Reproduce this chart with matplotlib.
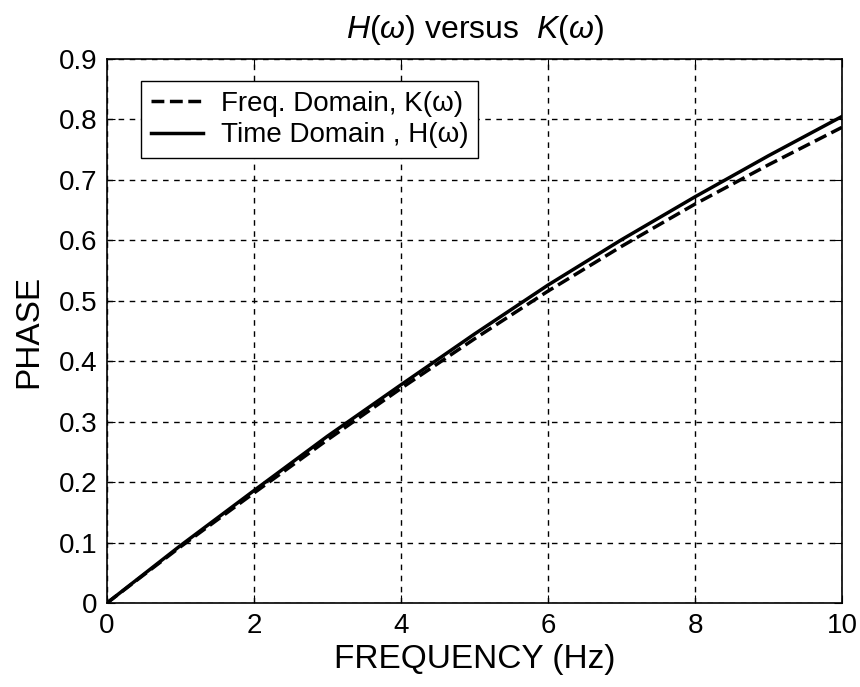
import matplotlib
matplotlib.use('Agg')
import matplotlib.pyplot as plt

plt.rcParams['font.family'] = ['Liberation Sans', 'DejaVu Sans']
plt.rcParams['mathtext.fontset'] = 'custom'
plt.rcParams['mathtext.it'] = 'Liberation Sans:italic'
plt.rcParams['mathtext.rm'] = 'Liberation Sans'

# data
freq = [0, 1, 2, 3, 4, 5, 6, 7, 8, 9, 10]
phase_K = [0, 0.093, 0.182, 0.270, 0.355, 0.437, 0.516, 0.590, 0.660, 0.725, 0.787]
phase_H = [0, 0.095, 0.186, 0.276, 0.361, 0.445, 0.526, 0.601, 0.672, 0.740, 0.805]

fig = plt.figure(figsize=(8.6, 6.87), dpi=100)
ax = fig.add_axes([0.1244, 0.1223, 0.8547, 0.7918])

ax.plot(freq, phase_K, 'k--', lw=2.5, label='Freq. Domain, K(ω)')
ax.plot(freq, phase_H, 'k-', lw=2.5, label='Time Domain , H(ω)')

ax.set_xlim(0, 10)
ax.set_ylim(0, 0.9)
ax.set_xticks([0, 2, 4, 6, 8, 10])
ax.set_yticks([0, 0.1, 0.2, 0.3, 0.4, 0.5, 0.6, 0.7, 0.8, 0.9])
ax.set_yticklabels(['0', '0.1', '0.2', '0.3', '0.4', '0.5', '0.6', '0.7', '0.8', '0.9'])
ax.grid(True, color='k', linestyle=(0, (4, 4)), lw=1)
ax.tick_params(direction='in', top=True, right=True, labelsize=20, length=6, pad=7)
for s in ax.spines.values():
    s.set_linewidth(1.2)

ax.set_xlabel('FREQUENCY (Hz)', fontsize=24, labelpad=4)
ax.set_ylabel('PHASE', fontsize=24, labelpad=10)
ax.set_title(r'$H(\omega)$ versus  $K(\omega)$', fontsize=23, pad=15)

leg = ax.legend(loc='upper left', bbox_to_anchor=(0.0464, 0.9596), fontsize=20,
                fancybox=False, framealpha=1, edgecolor='k', handlelength=1.87,
                handletextpad=0.65, borderpad=0.35, labelspacing=0.2,
                borderaxespad=0)
leg.get_frame().set_linewidth(1)

fig.savefig('out.png', dpi=100)
